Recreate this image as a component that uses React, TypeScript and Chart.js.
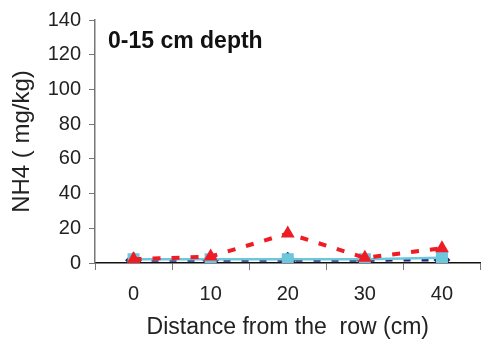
import React, { useEffect, useRef } from "react";
import { Chart, registerables } from "chart.js";

Chart.register(...registerables);

const categories = ["0", "10", "20", "30", "40"];
const seriesNavy = [1.6, 1.6, 1.6, 1.6, 1.8];
const seriesRed = [2.2, 3.7, 17, 3, 8.5];
const seriesBlue = [2.2, 2.2, 2.2, 2.2, 3];
const yTicks = [0, 20, 40, 60, 80, 100, 120, 140];

const FONT = "'Liberation Sans', Arial, sans-serif";

const titlePlugin = {
  id: "innerTitle",
  afterDraw(chart: any) {
    const ctx = chart.ctx;
    ctx.save();
    ctx.font = `bold 23px ${FONT}`;
    ctx.fillStyle = "#111";
    ctx.textBaseline = "alphabetic";
    ctx.textAlign = "left";
    ctx.fillText("0-15 cm depth", 108, 48);
    ctx.restore();
  },
};

export default function App() {
  const ref = useRef<HTMLCanvasElement>(null);
  useEffect(() => {
    document.body.style.margin = "0";
    const chart = new Chart(ref.current!, {
      type: "line",
      data: {
        labels: categories,
        datasets: [
          {
            label: "red",
            data: seriesRed,
            borderColor: "#ee1c24",
            backgroundColor: "#ee1c24",
            borderWidth: 4,
            borderDash: [8, 11],
            pointStyle: "triangle",
            pointRadius: 8,
            pointBorderWidth: 0,
            order: 0,
          },
          {
            label: "blue",
            data: seriesBlue,
            borderColor: "#6cc7dd",
            backgroundColor: "#6cc7dd",
            borderWidth: 2.5,
            pointStyle: "rect",
            pointRadius: 8.5,
            pointBorderWidth: 0,
            order: 1,
          },
          {
            label: "navy",
            data: seriesNavy,
            borderColor: "#23236e",
            backgroundColor: "#23236e",
            borderWidth: 3,
            borderDash: [7, 11],
            pointStyle: "rectRot",
            pointRadius: 8.5,
            pointBorderWidth: 0,
            order: 2,
          },
        ],
      },
      options: {
        animation: false,
        responsive: false,
        layout: { padding: { top: 11, right: 1, left: 0, bottom: 4 } },
        plugins: { legend: { display: false }, tooltip: { enabled: false } },
        scales: {
          x: {
            type: "category",
            offset: true,
            grid: {
              offset: true,
              drawOnChartArea: false,
              drawTicks: true,
              tickLength: 7,
              color: "#777",
            },
            border: { color: "#111", width: 1.5 },
            ticks: {
              color: "#222",
              font: { family: FONT, size: 20 },
              padding: 12,
            },
            title: {
              display: true,
              text: "Distance from the  row (cm)",
              color: "#222",
              font: { family: FONT, size: 23 },
              padding: { top: 0, bottom: 0 },
            },
            afterFit(scale: any) {
              scale.height = 78;
            },
          },
          y: {
            min: 0,
            max: 140,
            afterBuildTicks(scale: any) {
              scale.ticks = yTicks.map((v) => ({ value: v }));
            },
            grid: {
              drawOnChartArea: false,
              drawTicks: true,
              tickLength: 6,
              color: "#777",
            },
            border: { color: "#777", width: 1.5 },
            ticks: {
              color: "#222",
              font: { family: FONT, size: 20 },
              padding: 8,
            },
            title: {
              display: true,
              text: "NH4 ( mg/kg)",
              color: "#222",
              font: { family: FONT, size: 24 },
              padding: { top: 8, bottom: 0 },
            },
            afterFit(scale: any) {
              scale.width = 95;
            },
          },
        },
      },
      plugins: [titlePlugin],
    });
    return () => chart.destroy();
  }, []);
  return (
    <div style={{ width: 489, height: 345 }}>
      <canvas ref={ref} width={489} height={345} />
    </div>
  );
}
